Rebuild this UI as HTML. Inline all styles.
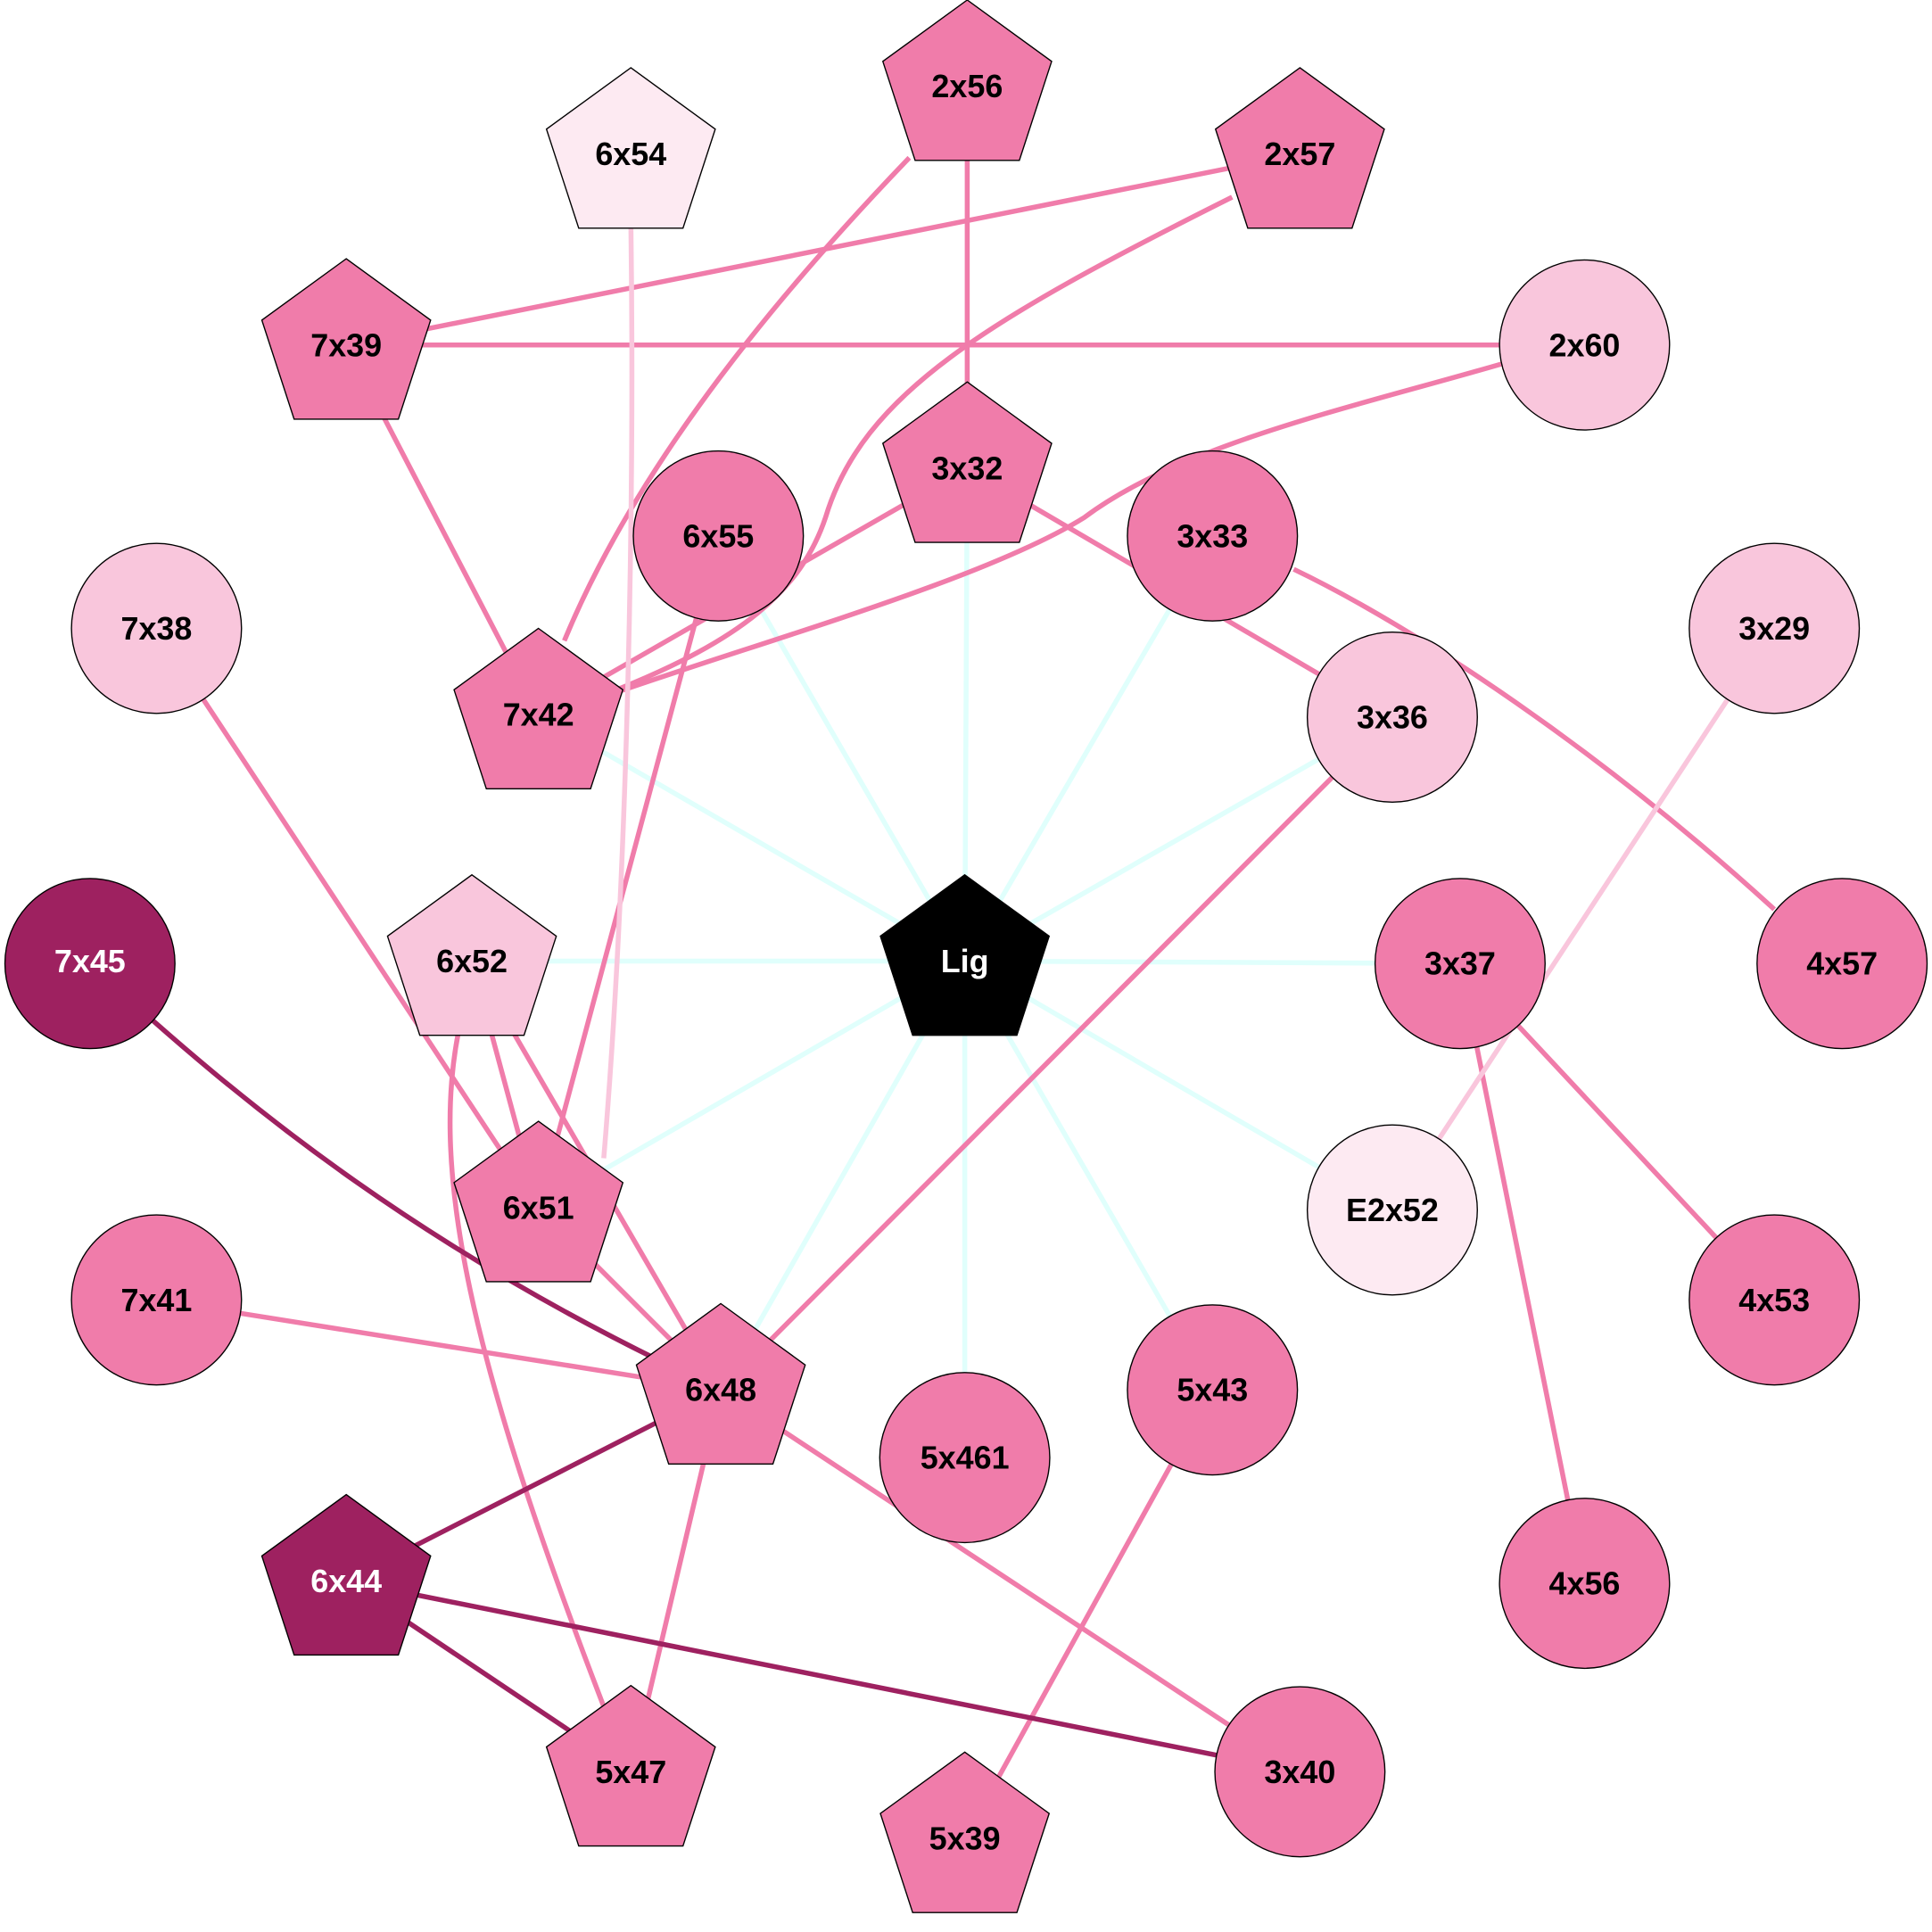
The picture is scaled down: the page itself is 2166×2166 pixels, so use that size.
<!DOCTYPE html>
<html><head><meta charset="utf-8"><style>html,body{margin:0;padding:0;background:#fff}svg{display:block}text{font-family:"Liberation Sans",Arial,sans-serif;font-weight:bold;font-size:26px;text-anchor:middle;dominant-baseline:central}</style></head>
<body>
<svg width="2166" height="2166" viewBox="0 0 1568 1568" xmlns="http://www.w3.org/2000/svg">
<defs>
<polygon id="pg" points="0,-72 68.5,-22.2 42.3,58.2 -42.3,58.2 -68.5,-22.2" stroke="#000" stroke-width="1"/>
</defs>
<g stroke="#e0fffc" stroke-width="4" fill="none">
<line x1="783" y1="780" x2="583" y2="435"/><line x1="783" y1="780" x2="785" y2="380"/><line x1="783" y1="780" x2="984" y2="435"/>
<line x1="783" y1="780" x2="437" y2="580"/><line x1="783" y1="780" x2="1130" y2="582"/><line x1="783" y1="780" x2="383" y2="780"/>
<line x1="783" y1="780" x2="1185" y2="782"/><line x1="783" y1="780" x2="437" y2="980"/><line x1="783" y1="780" x2="1130" y2="982"/>
<line x1="783" y1="780" x2="585" y2="1128"/><line x1="783" y1="780" x2="783" y2="1183"/><line x1="783" y1="780" x2="984" y2="1128"/>
</g>
<g stroke="#f07caa" stroke-width="4" fill="none">
<line x1="785" y1="70" x2="785" y2="380"/>
<path d="M738,128 C640,230 520,370 458,520"/>
<line x1="1055" y1="125" x2="281" y2="280"/>
<path d="M1000,160 C800,260 700,320 670,420 C650,480 600,520 500,560"/>
<line x1="281" y1="280" x2="1286" y2="280"/>
<line x1="281" y1="280" x2="437" y2="580"/>
<path d="M1220,295 C1100,330 960,360 880,420 C800,470 620,520 500,562"/>
<line x1="785" y1="380" x2="437" y2="580"/>
<line x1="785" y1="380" x2="1130" y2="582"/>
<line x1="583" y1="435" x2="437" y2="980"/>
<path d="M1050,462 C1150,510 1300,610 1440,738"/>
<line x1="127" y1="510" x2="437" y2="980"/>
<line x1="1130" y1="582" x2="585" y2="1128"/>
<line x1="383" y1="780" x2="437" y2="980"/>
<line x1="383" y1="780" x2="585" y2="1128"/>
<path d="M372,838 C350,950 380,1100 490,1385"/>
<line x1="1185" y1="782" x2="1440" y2="1055"/>
<line x1="1185" y1="782" x2="1286" y2="1285"/>
<line x1="127" y1="1055" x2="585" y2="1128"/>
<line x1="437" y1="980" x2="585" y2="1128"/>
<line x1="585" y1="1128" x2="512" y2="1438"/>
<line x1="585" y1="1128" x2="1055" y2="1438"/>
<line x1="984" y1="1128" x2="783" y2="1492"/>
</g>
<g stroke="#f9c6dc" stroke-width="4" fill="none">
<path d="M512,180 C515,400 510,700 490,940"/>
<line x1="1440" y1="510" x2="1130" y2="982"/>
</g>
<g stroke="#9e2160" stroke-width="4" fill="none">
<path d="M73,782 C200,900 350,1020 585,1128"/>
<line x1="585" y1="1128" x2="281" y2="1283"/>
<line x1="281" y1="1283" x2="512" y2="1438"/>
<line x1="281" y1="1283" x2="1055" y2="1438"/>
</g>
<g stroke="#000" stroke-width="1">
<use href="#pg" x="785" y="72" fill="#f07caa"/>
<use href="#pg" x="512" y="127" fill="#fdeaf2"/>
<use href="#pg" x="1055" y="127" fill="#f07caa"/>
<use href="#pg" x="281" y="282" fill="#f07caa"/>
<use href="#pg" x="785" y="382" fill="#f07caa"/>
<use href="#pg" x="437" y="582" fill="#f07caa"/>
<use href="#pg" x="383" y="782" fill="#f9c6dc"/>
<use href="#pg" x="783" y="782" fill="#000"/>
<use href="#pg" x="437" y="982" fill="#f07caa"/>
<use href="#pg" x="585" y="1130" fill="#f07caa"/>
<use href="#pg" x="281" y="1285" fill="#9e2160"/>
<use href="#pg" x="512" y="1440" fill="#f07caa"/>
<use href="#pg" x="783" y="1494" fill="#f07caa"/>
<circle cx="1286" cy="280" r="69" fill="#f9c6dc"/>
<circle cx="583" cy="435" r="69" fill="#f07caa"/>
<circle cx="984" cy="435" r="69" fill="#f07caa"/>
<circle cx="127" cy="510" r="69" fill="#f9c6dc"/>
<circle cx="1440" cy="510" r="69" fill="#f9c6dc"/>
<circle cx="1130" cy="582" r="69" fill="#f9c6dc"/>
<circle cx="73" cy="782" r="69" fill="#9e2160"/>
<circle cx="1185" cy="782" r="69" fill="#f07caa"/>
<circle cx="1495" cy="782" r="69" fill="#f07caa"/>
<circle cx="1130" cy="982" r="69" fill="#fdeaf2"/>
<circle cx="127" cy="1055" r="69" fill="#f07caa"/>
<circle cx="1440" cy="1055" r="69" fill="#f07caa"/>
<circle cx="984" cy="1128" r="69" fill="#f07caa"/>
<circle cx="783" cy="1183" r="69" fill="#f07caa"/>
<circle cx="1286" cy="1285" r="69" fill="#f07caa"/>
<circle cx="1055" cy="1438" r="69" fill="#f07caa"/>
</g>
<g fill="#000">
<text x="785" y="70">2x56</text><text x="512" y="125">6x54</text><text x="1055" y="125">2x57</text>
<text x="281" y="280">7x39</text><text x="1286" y="280">2x60</text><text x="785" y="380">3x32</text>
<text x="583" y="435">6x55</text><text x="984" y="435">3x33</text><text x="127" y="510">7x38</text>
<text x="1440" y="510">3x29</text><text x="437" y="580">7x42</text><text x="1130" y="582">3x36</text>
<text x="383" y="780">6x52</text><text x="1185" y="782">3x37</text><text x="1495" y="782">4x57</text>
<text x="437" y="980">6x51</text><text x="1130" y="982">E2x52</text><text x="127" y="1055">7x41</text>
<text x="1440" y="1055">4x53</text><text x="585" y="1128">6x48</text><text x="984" y="1128">5x43</text>
<text x="783" y="1183">5x461</text><text x="1286" y="1285">4x56</text><text x="512" y="1438">5x47</text>
<text x="1055" y="1438">3x40</text><text x="783" y="1492">5x39</text>
</g>
<g fill="#fff"><text x="783" y="780">Lig</text><text x="73" y="780">7x45</text><text x="281" y="1283">6x44</text></g>
</svg>
</body></html>
